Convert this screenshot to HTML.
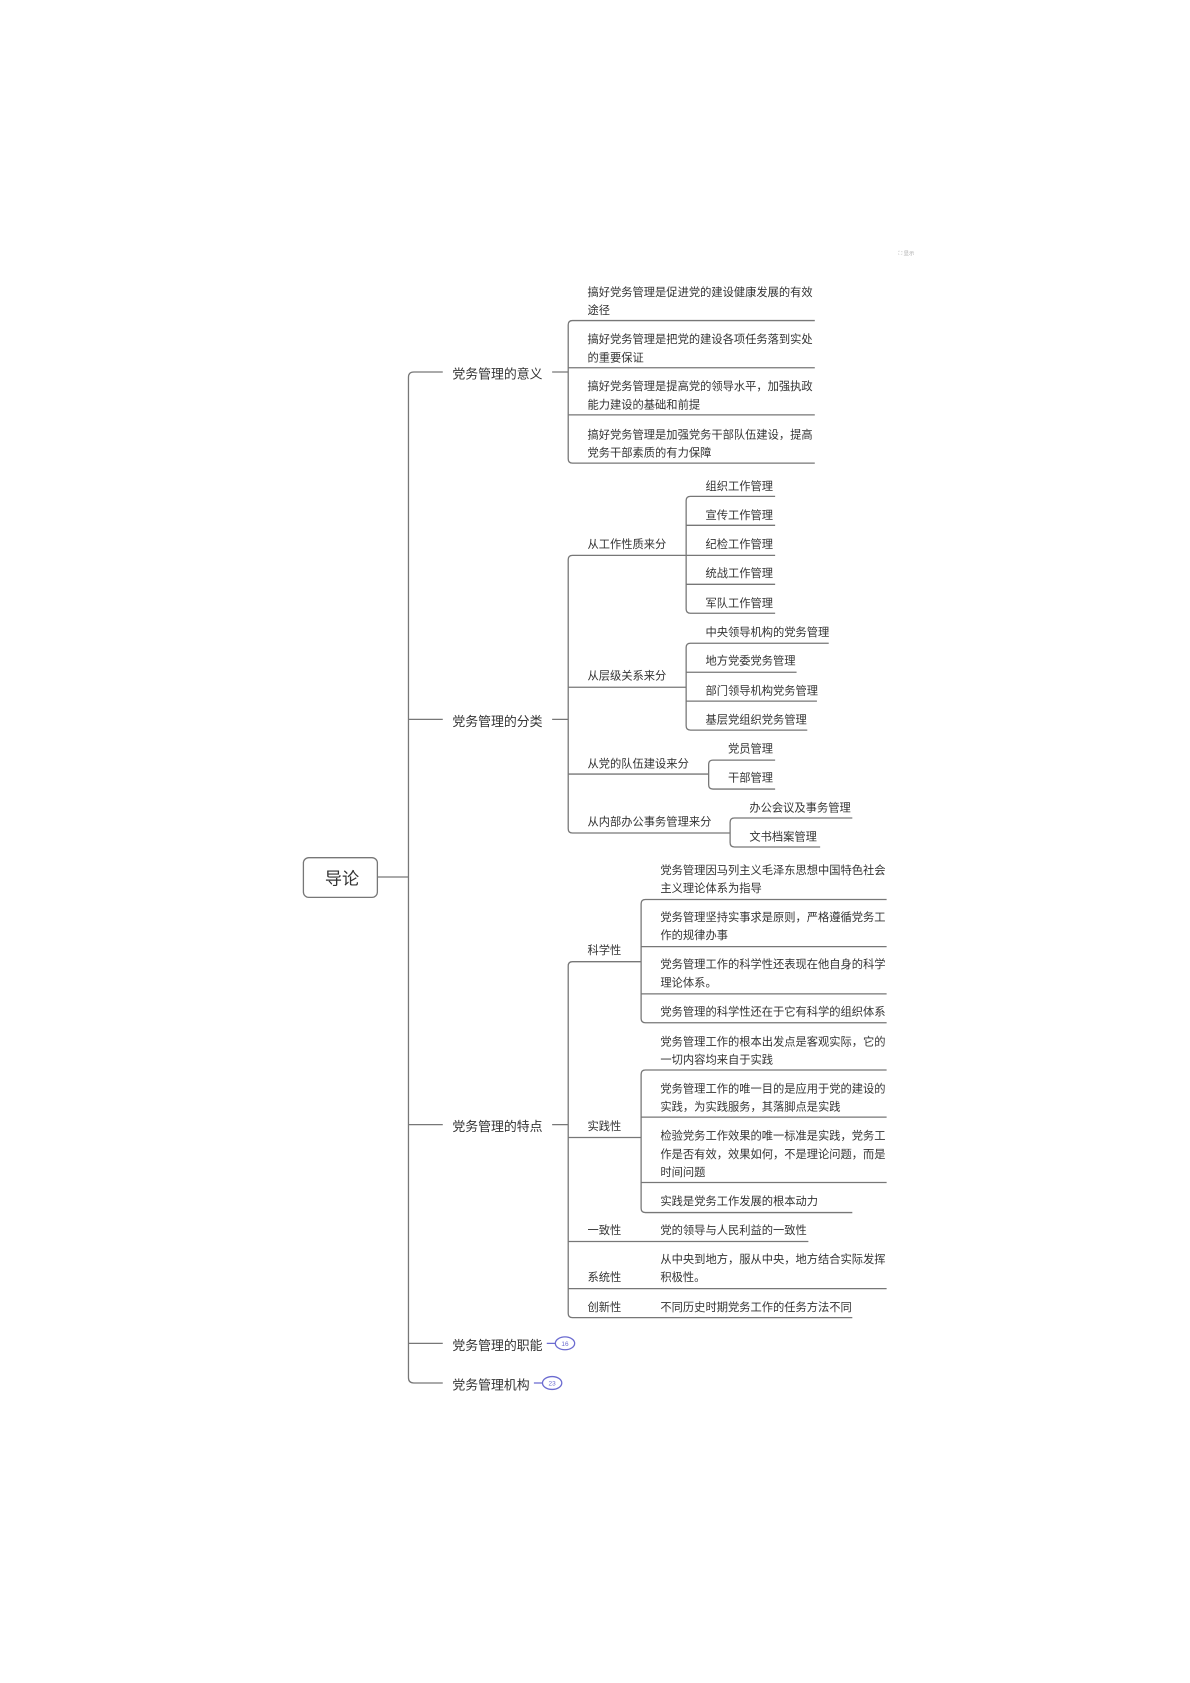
<!DOCTYPE html>
<html><head><meta charset="utf-8">
<style>
html,body{margin:0;padding:0;background:#fff;width:1190px;height:1683px;overflow:hidden}
#c{position:absolute;left:0;top:0;width:1110px;height:1570px;transform:scale(1.0721);transform-origin:0 0;font-family:"Liberation Sans","Noto Sans CJK SC",sans-serif;color:#333}
.t{position:absolute;font-size:10.5px;line-height:17px;white-space:nowrap;margin-top:3px}
.l1{font-size:12px}
svg{position:absolute;left:0;top:0}
</style></head><body><div id="c">
<svg width="1110" height="1570" viewBox="0 0 1110 1570" fill="none" stroke="#777" stroke-width="1.2">
<rect x="283" y="800" width="69" height="37" rx="5" fill="#fff"/>
<path d="M352,818 H381"/>
<path d="M413,347 H386 Q381,347 381,352 V1285 Q381,1290 386,1290 H413"/>
<path d="M381,671 H413 M381,1049 H413 M381,1253 H413"/>
<path d="M515,347 H530"/>
<path d="M760,299 H534 Q530,299 530,303 V428 Q530,432 534,432 H760 M530,343 H760 M530,387 H760"/>
<path d="M515,671 H530"/>
<path d="M640,518 H534 Q530,518 530,522 V773 Q530,777 534,777 H681 M530,641 H640 M530,722 H661"/>
<path d="M723,463 H644 Q640,463 640,467 V568 Q640,572 644,572 H723 M640,490 H723 M640,518 H723 M640,545 H723"/>
<path d="M773,600 H644 Q640,600 640,604 V677 Q640,681 644,681 H753 M640,627 H743 M640,654 H762"/>
<path d="M723,709 H665 Q661,709 661,713 V732 Q661,736 665,736 H723"/>
<path d="M795,763 H685 Q681,763 681,767 V786 Q681,790 685,790 H765"/>
<path d="M515,1049 H530"/>
<path d="M598,897 H534 Q530,897 530,901 V1225 Q530,1229 534,1229 H795 M530,1061 H598 M530,1158 H754 M530,1202 H827"/>
<path d="M827,839 H602 Q598,839 598,843 V950 Q598,954 602,954 H827 M598,883 H827 M598,927 H827"/>
<path d="M827,998 H602 Q598,998 598,1002 V1127 Q598,1131 602,1131 H795 M598,1042 H827 M598,1103 H827"/>
<path d="M510,1253 H518 M498,1290 H506" stroke="#6b6bd0"/>
<ellipse cx="527" cy="1253" rx="9" ry="6" stroke="#6b6bd0"/>
<ellipse cx="515" cy="1290" rx="9" ry="6" stroke="#6b6bd0"/>
<text x="527" y="1255.5" font-size="6" fill="#6b6bd0" stroke="none" text-anchor="middle" font-family="Liberation Sans">16</text>
<text x="515" y="1292.5" font-size="6" fill="#6b6bd0" stroke="none" text-anchor="middle" font-family="Liberation Sans">23</text>
<text x="838" y="238" font-size="5" fill="#aaa" stroke="none" font-family="Liberation Sans, Noto Sans CJK SC">⛶ 显示</text>
</svg>
<div class="t" style="left:303px;top:808px;font-size:16px;line-height:20px">导论</div>

<div class="t l1" style="left:422px;top:338px">党务管理的意义</div>
<div class="t l1" style="left:422px;top:662px">党务管理的分类</div>
<div class="t l1" style="left:422px;top:1040px">党务管理的特点</div>
<div class="t l1" style="left:422px;top:1244px">党务管理的职能</div>
<div class="t l1" style="left:422px;top:1281px">党务管理机构</div>

<div class="t" style="left:548px;top:262px">搞好党务管理是促进党的建设健康发展的有效<br>途径</div>
<div class="t" style="left:548px;top:306px">搞好党务管理是把党的建设各项任务落到实处<br>的重要保证</div>
<div class="t" style="left:548px;top:350px">搞好党务管理是提高党的领导水平，加强执政<br>能力建设的基础和前提</div>
<div class="t" style="left:548px;top:395px">搞好党务管理是加强党务干部队伍建设，提高<br>党务干部素质的有力保障</div>

<div class="t" style="left:548px;top:497px">从工作性质来分</div>
<div class="t" style="left:548px;top:620px">从层级关系来分</div>
<div class="t" style="left:548px;top:702px">从党的队伍建设来分</div>
<div class="t" style="left:548px;top:756px">从内部办公事务管理来分</div>

<div class="t" style="left:658px;top:443px">组织工作管理</div>
<div class="t" style="left:658px;top:470px">宣传工作管理</div>
<div class="t" style="left:658px;top:497px">纪检工作管理</div>
<div class="t" style="left:658px;top:524px">统战工作管理</div>
<div class="t" style="left:658px;top:552px">军队工作管理</div>
<div class="t" style="left:658px;top:579px">中央领导机构的党务管理</div>
<div class="t" style="left:658px;top:606px">地方党委党务管理</div>
<div class="t" style="left:658px;top:634px">部门领导机构党务管理</div>
<div class="t" style="left:658px;top:661px">基层党组织党务管理</div>
<div class="t" style="left:679px;top:688px">党员管理</div>
<div class="t" style="left:679px;top:715px">干部管理</div>
<div class="t" style="left:699px;top:743px">办公会议及事务管理</div>
<div class="t" style="left:699px;top:770px">文书档案管理</div>

<div class="t" style="left:548px;top:876px">科学性</div>
<div class="t" style="left:548px;top:1040px">实践性</div>
<div class="t" style="left:548px;top:1137px">一致性</div>
<div class="t" style="left:548px;top:1181px">系统性</div>
<div class="t" style="left:548px;top:1209px">创新性</div>

<div class="t" style="left:616px;top:801px">党务管理因马列主义毛泽东思想中国特色社会<br>主义理论体系为指导</div>
<div class="t" style="left:616px;top:845px">党务管理坚持实事求是原则，严格遵循党务工<br>作的规律办事</div>
<div class="t" style="left:616px;top:889px">党务管理工作的科学性还表现在他自身的科学<br>理论体系。</div>
<div class="t" style="left:616px;top:933px">党务管理的科学性还在于它有科学的组织体系</div>
<div class="t" style="left:616px;top:961px">党务管理工作的根本出发点是客观实际，它的<br>一切内容均来自于实践</div>
<div class="t" style="left:616px;top:1005px">党务管理工作的唯一目的是应用于党的建设的<br>实践，为实践服务，其落脚点是实践</div>
<div class="t" style="left:616px;top:1049px">检验党务工作效果的唯一标准是实践，党务工<br>作是否有效，效果如何，不是理论问题，而是<br>时间问题</div>
<div class="t" style="left:616px;top:1110px">实践是党务工作发展的根本动力</div>
<div class="t" style="left:616px;top:1137px">党的领导与人民利益的一致性</div>
<div class="t" style="left:616px;top:1164px">从中央到地方，服从中央，地方结合实际发挥<br>积极性。</div>
<div class="t" style="left:616px;top:1209px">不同历史时期党务工作的任务方法不同</div>
</div></body></html>
